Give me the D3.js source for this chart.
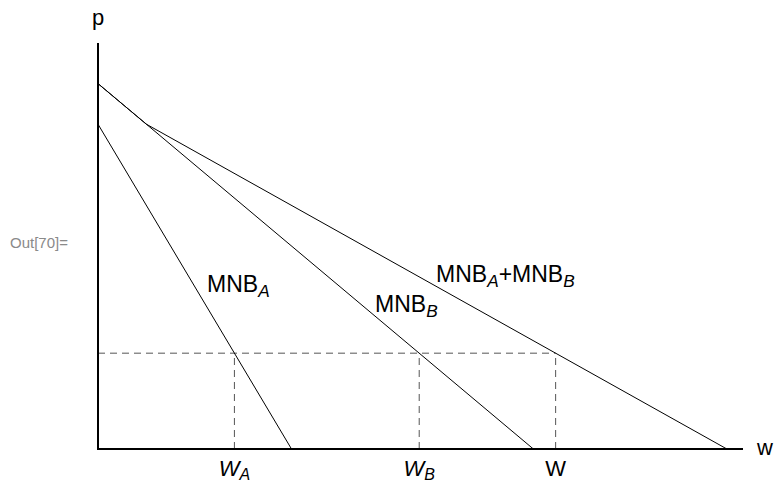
<!DOCTYPE html>
<html><head><meta charset="utf-8">
<script src="https://cdn.jsdelivr.net/npm/d3@7"></script>
<style>
body{margin:0;background:#fff;}
svg{display:block;font-family:"Liberation Sans",Arial,sans-serif;}
</style></head>
<body>
<svg id="c" width="775" height="483"></svg>
<script>
// demand (marginal net benefit) curves: [w, p] endpoints
const mnbA = [[0, 8], [3, 0]];
const mnbB = [[0, 9], [6.75, 0]];
const mnbSum = [[0, 9], [0.75, 8], [9.75, 0]];
const pStar = 2.36;
const wA = 3 * (1 - pStar / 8);
const wB = 6.75 * (1 - pStar / 9);
const wTot = wA + wB;
const xLabels = [{w: wA, t: "W", s: "A"}, {w: wB, t: "W", s: "B"}, {w: wTot, t: "W", s: ""}];

const svg = d3.select("#c");
const x = d3.scaleLinear().domain([0, 10]).range([98, 743]);
const y = d3.scaleLinear().domain([0, 10]).range([449, 43]);
const line = d3.line().x(d => x(d[0])).y(d => y(d[1]));

svg.append("text").attr("x", 10).attr("y", 248).attr("font-size", 15).attr("fill", "#8a8a8a").text("Out[70]=");

// dashed guides
svg.append("path").attr("d", line([[0, pStar], [wTot, pStar]]))
  .attr("stroke", "#555").attr("stroke-width", 1).attr("stroke-dasharray", "7,5").attr("fill", "none");
[wA, wB, wTot].forEach(w => {
  svg.append("path").attr("d", line([[w, 0], [w, pStar]]))
    .attr("stroke", "#555").attr("stroke-width", 1).attr("stroke-dasharray", "7,5").attr("fill", "none");
});

[mnbA, mnbB, mnbSum].forEach(d => {
  svg.append("path").attr("d", line(d)).attr("stroke", "#000").attr("stroke-width", 1).attr("fill", "none");
});

// axes
svg.append("line").attr("x1", x(0)).attr("x2", x(0)).attr("y1", y(10)).attr("y2", y(0) + 1)
  .attr("stroke", "#000").attr("stroke-width", 2);
svg.append("line").attr("x1", x(0) - 1).attr("x2", x(10)).attr("y1", y(0)).attr("y2", y(0))
  .attr("stroke", "#000").attr("stroke-width", 2);

svg.append("text").attr("x", 92).attr("y", 25).attr("font-size", 22).text("p");
svg.append("text").attr("x", 757).attr("y", 455).attr("font-size", 22).text("w");

function sub(xp, yp, parts, fs) {
  const t = svg.append("text").attr("x", xp).attr("y", yp).attr("font-size", fs);
  let shifted = false;
  parts.forEach(p => {
    if (p.sub) {
      t.append("tspan").attr("font-size", fs * 0.75).attr("font-style", "italic")
        .attr("dy", shifted ? 0 : fs * 0.22).text(p.sub);
      shifted = true;
    } else {
      t.append("tspan").attr("dy", shifted ? -fs * 0.22 : 0).text(p.t);
      shifted = false;
    }
  });
}
sub(207, 292, [{t: "MNB"}, {sub: "A"}], 23);
sub(375, 312, [{t: "MNB"}, {sub: "B"}], 23);
sub(436, 282, [{t: "MNB"}, {sub: "A"}, {t: "+MNB"}, {sub: "B"}], 23);

xLabels.forEach(d => {
  const t = svg.append("text").attr("x", x(d.w)).attr("y", 476).attr("font-size", 22).attr("text-anchor", "middle");
  t.append("tspan").attr("font-style", d.s ? "italic" : "normal").text(d.t);
  if (d.s) t.append("tspan").attr("font-style", "italic").attr("font-size", 16).attr("dy", 4).text(d.s);
});
</script>
</body></html>
